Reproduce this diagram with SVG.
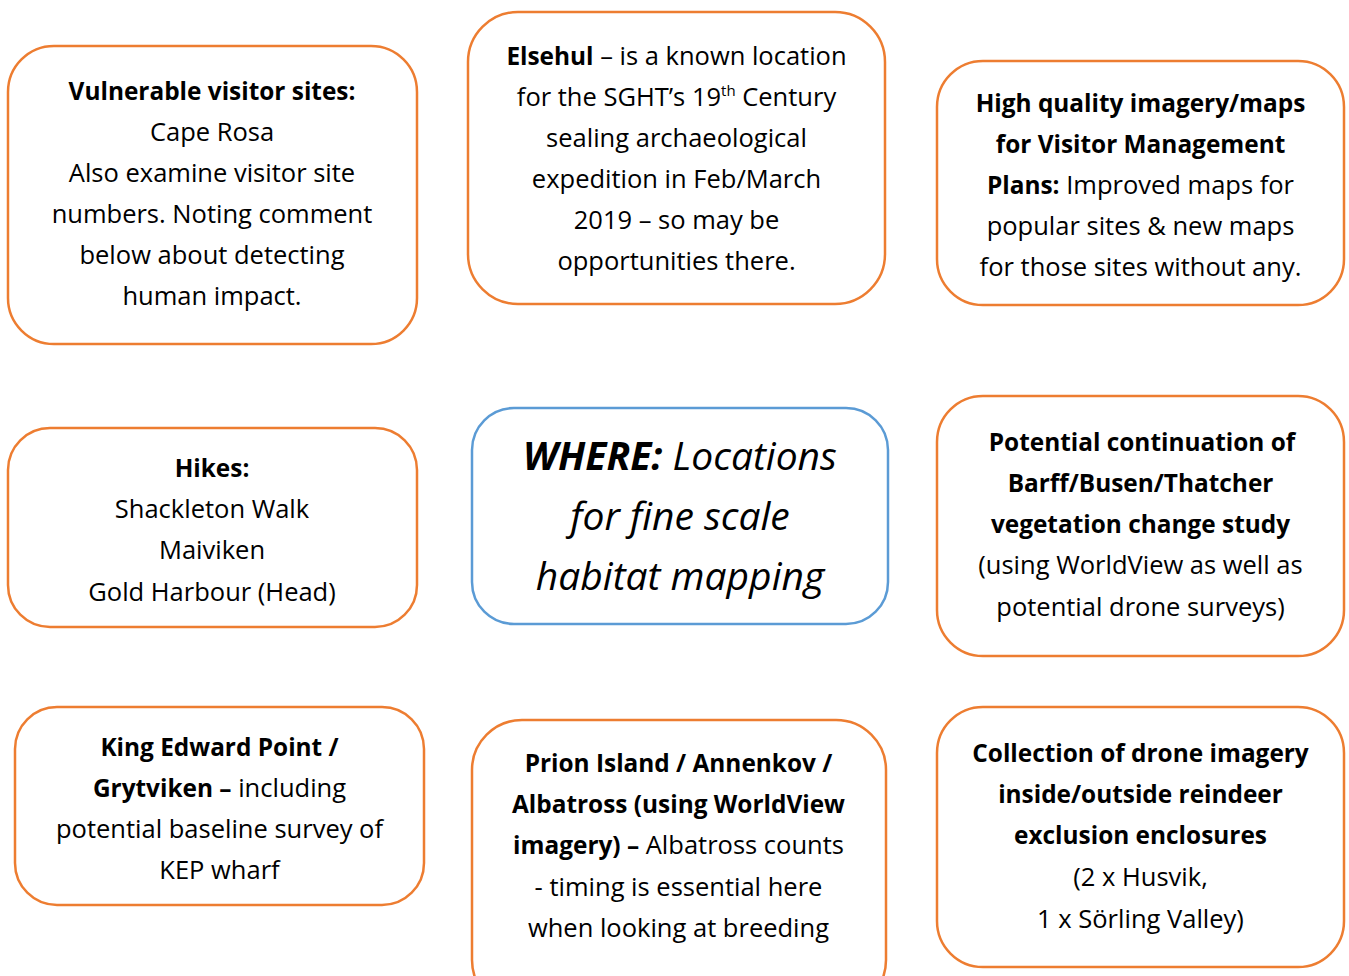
<svg xmlns="http://www.w3.org/2000/svg" width="1349" height="976" viewBox="0 0 1349 976">
  <style>
    .box { fill: #ffffff; stroke: #ED7D31; stroke-width: 2.5; }
    .box.main { stroke: #5B9BD5; }
    text { font-family: "Open Sans", "Noto Sans", "Liberation Sans", sans-serif; font-size: 25.5px; fill: #000000; text-anchor: middle; }
    .b { font-weight: bold; font-size: 24.4px; }
    .big { font-size: 39px; font-style: italic; }
    .sup { font-size: 15px; }
  </style>
  <rect width="1349" height="976" fill="#ffffff"/>

  <!-- top row -->
  <g id="vulnerable-sites">
    <rect class="box" x="8" y="46" width="409" height="298" rx="46"/>
    <text x="212" y="100" class="b">Vulnerable visitor sites:</text>
    <text x="212" y="141">Cape Rosa</text>
    <text x="212" y="182">Also examine visitor site</text>
    <text x="212" y="223">numbers. Noting comment</text>
    <text x="212" y="264">below about detecting</text>
    <text x="212" y="305">human impact.</text>
  </g>

  <g id="elsehul">
    <rect class="box" x="468" y="12" width="417" height="292" rx="50"/>
    <text x="676.5" y="65"><tspan class="b">Elsehul</tspan> – is a known location</text>
    <text x="676.5" y="106">for the SGHT’s 19<tspan class="sup" dy="-10">th</tspan><tspan dy="10"> Century</tspan></text>
    <text x="676.5" y="147">sealing archaeological</text>
    <text x="676.5" y="188">expedition in Feb/March</text>
    <text x="676.5" y="229">2019 – so may be</text>
    <text x="676.5" y="270">opportunities there.</text>
  </g>

  <g id="visitor-management">
    <rect class="box" x="937" y="61" width="407" height="244" rx="46"/>
    <text x="1140.5" y="112" class="b">High quality imagery/maps</text>
    <text x="1140.5" y="153" class="b">for Visitor Management</text>
    <text x="1140.5" y="194"><tspan class="b">Plans:</tspan> Improved maps for</text>
    <text x="1140.5" y="235">popular sites &amp; new maps</text>
    <text x="1140.5" y="276">for those sites without any.</text>
  </g>

  <!-- middle row -->
  <g id="hikes">
    <rect class="box" x="8" y="428" width="409" height="199" rx="42"/>
    <text x="212" y="477" class="b">Hikes:</text>
    <text x="212" y="518">Shackleton Walk</text>
    <text x="212" y="559">Maiviken</text>
    <text x="212" y="601">Gold Harbour (Head)</text>
  </g>

  <g id="where">
    <rect class="box main" x="472" y="408" width="416" height="216" rx="42"/>
    <text x="680" y="470" class="big"><tspan font-weight="bold">WHERE:</tspan> Locations</text>
    <text x="680" y="530" class="big">for fine scale</text>
    <text x="680" y="590" class="big">habitat mapping</text>
  </g>

  <g id="vegetation-study">
    <rect class="box" x="937" y="396" width="407" height="260" rx="46"/>
    <text x="1142" y="451" class="b">Potential continuation of</text>
    <text x="1140.5" y="492" class="b">Barff/Busen/Thatcher</text>
    <text x="1140.5" y="533" class="b">vegetation change study</text>
    <text x="1140.5" y="574">(using WorldView as well as</text>
    <text x="1140.5" y="616">potential drone surveys)</text>
  </g>

  <!-- bottom row -->
  <g id="king-edward-point">
    <rect class="box" x="15" y="707" width="409" height="198" rx="42"/>
    <text x="219.5" y="756" class="b">King Edward Point /</text>
    <text x="219.5" y="797"><tspan class="b">Grytviken –</tspan> including</text>
    <text x="219.5" y="838">potential baseline survey of</text>
    <text x="219.5" y="879">KEP wharf</text>
  </g>

  <g id="prion-island">
    <rect class="box" x="472" y="720" width="414" height="290" rx="50"/>
    <text x="678.5" y="772" class="b">Prion Island / Annenkov /</text>
    <text x="678.5" y="813" class="b">Albatross (using WorldView</text>
    <text x="678.5" y="854"><tspan class="b">imagery) –</tspan> Albatross counts</text>
    <text x="678.5" y="896">- timing is essential here</text>
    <text x="678.5" y="937">when looking at breeding</text>
  </g>

  <g id="reindeer-exclusion">
    <rect class="box" x="937" y="707" width="407" height="260" rx="46"/>
    <text x="1140.5" y="762" class="b">Collection of drone imagery</text>
    <text x="1140.5" y="803" class="b">inside/outside reindeer</text>
    <text x="1140.5" y="844" class="b">exclusion enclosures</text>
    <text x="1140.5" y="886">(2 x Husvik,</text>
    <text x="1140.5" y="928">1 x Sörling Valley)</text>
  </g>
</svg>
